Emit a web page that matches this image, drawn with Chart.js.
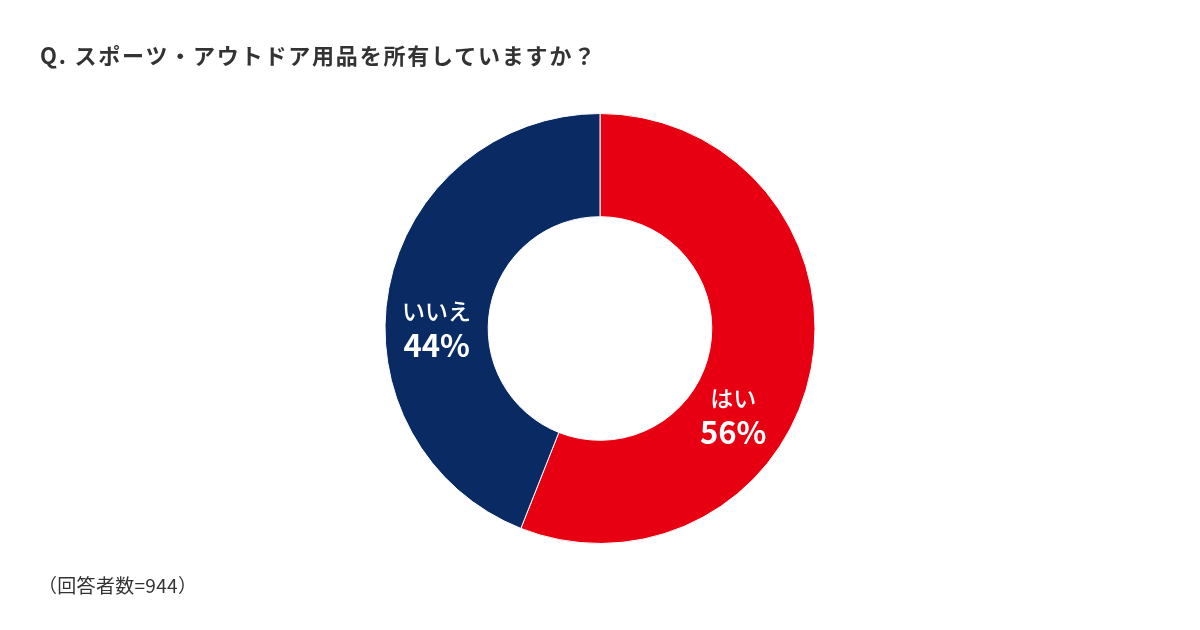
<!DOCTYPE html>
<html lang="ja">
<head>
<meta charset="utf-8">
<script src="https://cdn.jsdelivr.net/npm/chart.js@4"></script>
<style>
  html, body { margin: 0; padding: 0; background: #fff; }
  .wrap { position: relative; width: 1200px; height: 630px; overflow: hidden; }
  .title { position: absolute; left: 40px; top: 38px; font: bold 22px "Noto Sans CJK JP", sans-serif; color: #333; letter-spacing: 1.8px; }
  .note { position: absolute; left: 38px; top: 571px; font: 19px "Noto Sans CJK JP", sans-serif; color: #333; letter-spacing: 0.3px; }
  canvas { position: absolute; left: 0; top: 0; }
</style>
</head>
<body>
<div class="wrap">
  <canvas id="pie" width="1200" height="630"></canvas>
  <div class="title">Q. スポーツ・アウトドア用品を所有していますか？</div>
  <div class="note">（回答者数=944）</div>
</div>
<script>
// answers and share (%)
const labels = ['はい', 'いいえ'];
const values = [56, 44];
const colors = ['#e60012', '#0a2a63'];

// label angle offsets from slice centre, in degrees
const labelShift = [22.5, -11];

const sliceLabels = {
  id: 'sliceLabels',
  afterDatasetsDraw(chart) {
    const ctx = chart.ctx;
    const arcs = chart.getDatasetMeta(0).data;
    arcs.forEach((arc, i) => {
      const p = arc.getProps(['x', 'y', 'startAngle', 'endAngle', 'innerRadius', 'outerRadius'], true);
      const mid = (p.startAngle + p.endAngle) / 2 + labelShift[i] * Math.PI / 180;
      const r = (p.innerRadius + p.outerRadius) / 2 - (i === 0 ? 4 : 0);
      const cx = p.x + Math.cos(mid) * r;
      const cy = p.y + Math.sin(mid) * r;
      ctx.save();
      ctx.fillStyle = '#fff';
      ctx.textAlign = 'center';
      ctx.textBaseline = 'middle';
      ctx.font = '500 23px "Noto Sans CJK JP", sans-serif';
      ctx.fillText(labels[i], cx, cy - 18);
      ctx.font = 'bold 31px "Noto Sans CJK JP", sans-serif';
      ctx.fillText(values[i] + '%', cx, cy + 16);
      ctx.restore();
    });
  }
};

new Chart(document.getElementById('pie').getContext('2d'), {
  type: 'doughnut',
  data: {
    labels: labels,
    datasets: [{
      data: values,
      backgroundColor: colors,
      borderColor: '#ffffff',
      borderWidth: 1
    }]
  },
  options: {
    responsive: false,
    animation: false,
    cutout: '52%',
    layout: { padding: { top: 113, bottom: 86 } },
    plugins: {
      legend: { display: false },
      tooltip: { enabled: false }
    }
  },
  plugins: [sliceLabels]
});
</script>
</body>
</html>
